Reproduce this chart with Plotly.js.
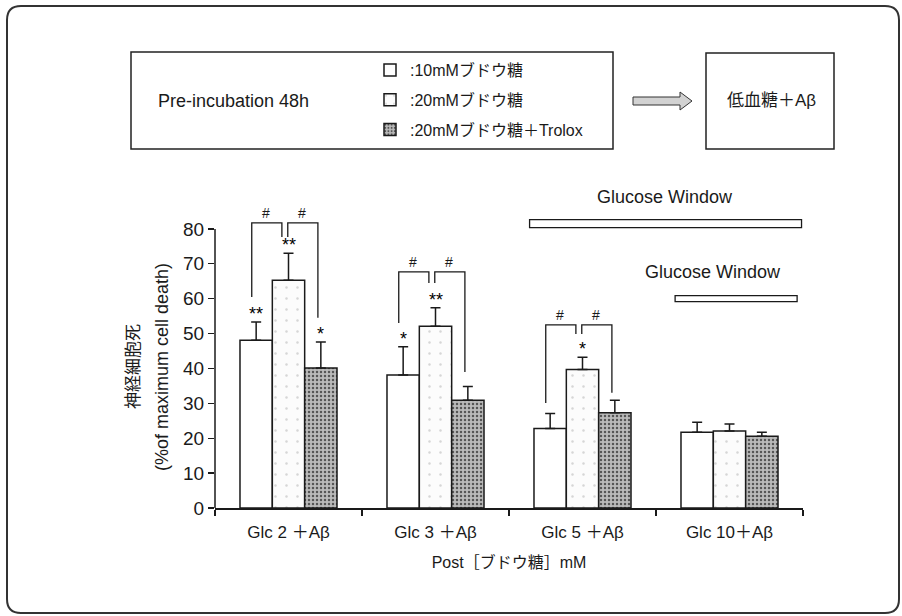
<!DOCTYPE html>
<html>
<head>
<meta charset="utf-8">
<script src="https://cdn.plot.ly/plotly-3.0.1.min.js"></script>
<style>html,body{margin:0;padding:0;background:#fff;}#chart{width:902px;height:616px;}</style>
</head>
<body>
<div id="chart"></div>
<script>
// ---------- data ----------
const categories = ['Glc 2 ＋Aβ', 'Glc 3 ＋Aβ', 'Glc 5 ＋Aβ', 'Glc 10＋Aβ'];
const seriesNames = [':10mMブドウ糖', ':20mMブドウ糖', ':20mMブドウ糖＋Trolox'];
const death10mM    = [48.1, 38.1, 22.8, 21.7];
const err10mM      = [5.2, 8.1, 4.3, 2.9];
const death20mM    = [65.3, 52.1, 39.7, 22.1];
const err20mM      = [7.7, 5.3, 3.5, 2.0];
const death20Trolox = [40.1, 30.9, 27.3, 20.6];
const err20Trolox  = [7.5, 3.9, 3.6, 1.1];
const stars10mM    = ['**', '*', '', ''];
const stars20mM    = ['**', '**', '*', ''];
const stars20Trolox = ['*', '', '', ''];
// significance brackets (#) per group: top, leg ends over 10mM / centre / Trolox bars
const bracketTop      = [81.7, 67.7, 52.5];
const bracketLeftEnd  = [60.5, 53.0, 30.1];
const bracketMidEnd   = [77.7, 64.5, 49.9];
const bracketRightEnd = [54.5, 39.0, 33.0];
// glucose windows (category position span, y level)
const windowStart = [1.64, 2.63];
const windowEnd   = [3.49, 3.46];
const windowLevel = [81.5, 60.0];
const windowLabel = ['Glucose Window', 'Glucose Window'];
const windowLabelX = [2.56, 2.89];
const yTicks = [0, 10, 20, 30, 40, 50, 60, 70, 80];

// ---------- layout helpers ----------
const W = 902, H = 616;
const PL = 215, PR = 803, PB = 508, PT = 194;
const YMAX = 90;
const unit = (PB - PT) / YMAX;
const px = v => (v - PL) / (PR - PL);
const py = v => (PB - v) / (PB - PT);
const FONT = 'Liberation Sans, Arial, Noto Sans CJK JP, sans-serif';
const black = '#1a1a1a';

const xIdx = categories.map((c, i) => i);
const offsets = [-0.22, 0, 0.22];

function barTrace(name, y, err, fill, pattern, group) {
  return {
    type: 'bar', name: name, x: categories, y: y, legendgroup: group,
    marker: {color: fill, line: {color: black, width: 1.5}, pattern: pattern},
    error_y: {type: 'data', symmetric: false, array: err, arrayminus: err.map(() => 0),
              color: black, thickness: 1.5, width: 5},
    hoverinfo: 'skip'
  };
}

const traces = [
  barTrace(seriesNames[0], death10mM, err10mM, '#ffffff', {shape: ''}, 'a'),
  barTrace(seriesNames[1], death20mM, err20mM, '#fcfcfc', {shape: '.', fgcolor: '#d6d6d6', bgcolor: '#fcfcfc', size: 11, solidity: 0.04, fillmode: 'replace'}, 'b'),
  barTrace(seriesNames[2], death20Trolox, err20Trolox, '#b4b4b4', {shape: '.', fgcolor: '#555555', bgcolor: '#bababa', size: 4, solidity: 0.3, fillmode: 'replace'}, 'c')
];

const shapes = [];
const annotations = [];

// y axis line only up to 80
shapes.push({type: 'line', xref: 'paper', yref: 'y', x0: 0, x1: 0, y0: 0, y1: 80, line: {color: black, width: 1.5}});

// asterisks
const allStars = [stars10mM, stars20mM, stars20Trolox];
const allVals = [death10mM, death20mM, death20Trolox];
const allErr = [err10mM, err20mM, err20Trolox];
allStars.forEach((s, j) => s.forEach((t, i) => {
  if (!t) return;
  annotations.push({x: xIdx[i] + offsets[j], y: allVals[j][i] + allErr[j][i], xref: 'x', yref: 'y',
    xanchor: 'center', yanchor: 'bottom', yshift: -4, text: t, showarrow: false,
    font: {family: FONT, size: 18, color: '#000000'}});
}));

// brackets with #
const legL = -0.25, innL = -0.045, innR = -0.005, legR = 0.2;
bracketTop.forEach((top, i) => {
  const c = xIdx[i];
  const ln = {color: black, width: 1.3};
  shapes.push({type: 'path', xref: 'x', yref: 'y', line: ln,
    path: `M${c + legL},${bracketLeftEnd[i]} L${c + legL},${top} L${c + innL},${top} L${c + innL},${bracketMidEnd[i]}`});
  shapes.push({type: 'path', xref: 'x', yref: 'y', line: ln,
    path: `M${c + innR},${bracketMidEnd[i]} L${c + innR},${top} L${c + legR},${top} L${c + legR},${bracketRightEnd[i]}`});
  [c - 0.15, c + 0.09].forEach(hx => annotations.push({x: hx, y: top, xref: 'x', yref: 'y', text: '#',
    showarrow: false, xanchor: 'center', yanchor: 'bottom', yshift: 0, font: {family: FONT, size: 14, color: black}}));
});

// glucose windows
const halfH = [4 / unit, 3 / unit];
const labelShift = [27, 27];
windowStart.forEach((x0, i) => {
  shapes.push({type: 'rect', xref: 'x', yref: 'y', x0: x0, x1: windowEnd[i],
    y0: windowLevel[i] - halfH[i], y1: windowLevel[i] + halfH[i], fillcolor: '#ffffff', line: {color: black, width: 1.3}});
  annotations.push({x: windowLabelX[i], y: windowLevel[i], xref: 'x', yref: 'y', text: windowLabel[i], showarrow: false,
    xanchor: 'center', yanchor: 'middle', yshift: labelShift[i], font: {family: FONT, size: 18, color: black}});
});

// y axis title (two lines)
annotations.push({xref: 'paper', yref: 'paper', x: px(133), y: py(367), xanchor: 'center', yanchor: 'middle',
  text: '神経細胞死', textangle: -90, showarrow: false, font: {family: FONT, size: 17, color: black}});
annotations.push({xref: 'paper', yref: 'paper', x: px(162), y: py(367), xanchor: 'center', yanchor: 'middle',
  text: '(%of maximum cell death)', textangle: -90, showarrow: false, font: {family: FONT, size: 18, color: black}});

// header boxes
shapes.push({type: 'rect', xref: 'paper', yref: 'paper', x0: px(131), x1: px(613), y0: py(149), y1: py(52), line: {color: '#222', width: 1.5}});
shapes.push({type: 'rect', xref: 'paper', yref: 'paper', x0: px(706), x1: px(834), y0: py(149), y1: py(53), line: {color: '#222', width: 1.5}});
// arrow
shapes.push({type: 'path', xref: 'paper', yref: 'paper', fillcolor: '#d2d2d2', line: {color: '#333', width: 1},
  path: `M${px(633)},${py(97)} L${px(680)},${py(97)} L${px(680)},${py(92)} L${px(692)},${py(101)} L${px(680)},${py(110)} L${px(680)},${py(105)} L${px(633)},${py(105)} Z`});
annotations.push({xref: 'paper', yref: 'paper', x: px(233), y: py(101), xanchor: 'center', yanchor: 'middle',
  text: 'Pre-incubation 48h', showarrow: false, font: {family: FONT, size: 18, color: black}});
annotations.push({xref: 'paper', yref: 'paper', x: px(771), y: py(101), xanchor: 'center', yanchor: 'middle',
  text: '低血糖＋Aβ', showarrow: false, font: {family: FONT, size: 17, color: black}});

// outer rounded frame
const fx0 = 7, fy0 = 6, fx1 = 899, fy1 = 613, r = 14;
shapes.push({type: 'path', xref: 'paper', yref: 'paper', line: {color: '#333', width: 2},
  path: `M${px(fx0 + r)},${py(fy0)} L${px(fx1 - r)},${py(fy0)} Q${px(fx1)},${py(fy0)} ${px(fx1)},${py(fy0 + r)} ` +
        `L${px(fx1)},${py(fy1 - r)} Q${px(fx1)},${py(fy1)} ${px(fx1 - r)},${py(fy1)} L${px(fx0 + r)},${py(fy1)} ` +
        `Q${px(fx0)},${py(fy1)} ${px(fx0)},${py(fy1 - r)} L${px(fx0)},${py(fy0 + r)} Q${px(fx0)},${py(fy0)} ${px(fx0 + r)},${py(fy0)} Z`});

const layout = {
  width: W, height: H,
  margin: {l: PL, r: W - PR, t: PT, b: H - PB, pad: 0},
  paper_bgcolor: '#ffffff', plot_bgcolor: '#ffffff',
  barmode: 'group', bargap: 0.34, bargroupgap: 0,
  font: {family: FONT, color: black},
  showlegend: true,
  legend: {x: px(370), y: py(53), xanchor: 'left', yanchor: 'top', bgcolor: 'rgba(0,0,0,0)',
           font: {family: FONT, size: 16, color: black}, tracegroupgap: 6, traceorder: 'grouped', itemclick: false},
  xaxis: {type: 'category', range: [-0.5, 3.5], tickson: 'boundaries', ticks: 'outside', ticklen: 6, tickwidth: 1.3,
          tickcolor: black, showline: true, linecolor: black, linewidth: 1.5, showgrid: false, zeroline: false,
          ticklabelstandoff: 8,
          tickfont: {family: FONT, size: 17, color: black},
          title: {text: 'Post［ブドウ糖］mM', font: {family: FONT, size: 16, color: black}, standoff: 16}},
  yaxis: {range: [0, YMAX], tickvals: yTicks, ticktext: yTicks.map(String), ticks: 'outside', ticklen: 6, tickwidth: 1.3,
          tickcolor: black, showline: false, showgrid: false, zeroline: false,
          tickfont: {family: FONT, size: 19, color: black}},
  shapes: shapes,
  annotations: annotations
};

Plotly.newPlot('chart', traces, layout, {displayModeBar: false, staticPlot: true});
</script>
</body>
</html>
